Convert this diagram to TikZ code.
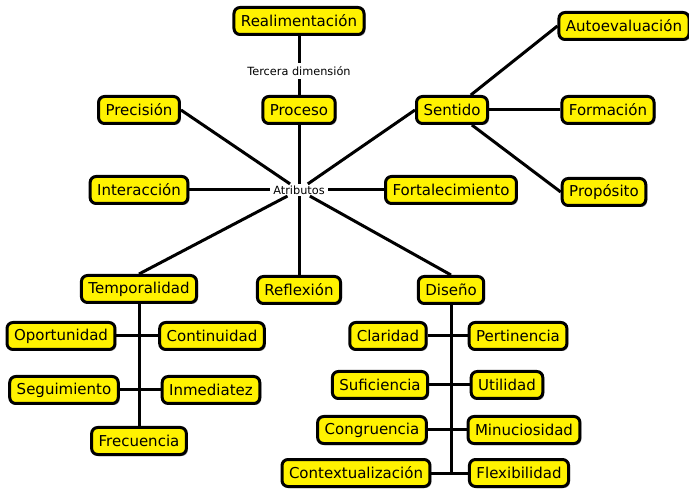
\documentclass[tikz,border=0pt]{standalone}
\usepackage{fontspec}
\setmainfont{DejaVu Sans}
\usetikzlibrary{shadows}

\begin{document}
\begin{tikzpicture}[x=1pt, y=-1pt,
    concepto/.style ={rectangle, rounded corners=6pt, draw, line width=3pt,
      fill=yellow, minimum height=27pt, inner xsep=7pt,
      font=\fontsize{15}{17}\selectfont,
      drop shadow={shadow xshift=1.5pt, shadow yshift=-1.5pt, fill=black!35, opacity=1}},
    enlace/.style ={fill=white, inner xsep=3pt, inner ysep=1.5pt,
      font=\fontsize{11.3}{13}\selectfont},
    conector/.style ={line width=3pt}]
   \useasboundingbox (0,0) rectangle (689,489);
   % centro
   \node[enlace] (atributos) at (299,190) {Atributos};
   \node[concepto] (realimentacion) at (299,21)  {Realimentación};
   \node[enlace, inner ysep=3pt] (tercera) at (299,71)  {Tercera dimensión};
   \node[concepto] (proceso) at (299,110)  {Proceso};
   \node[concepto] (precision) at (139,110)  {Precisión};
   \node[concepto] (sentido) at (452,110)  {Sentido};
   \node[concepto] (autoevaluacion) at (624,26)  {Autoevaluación};
   \node[concepto] (formacion) at (608,110)  {Formación};
   \node[concepto] (proposito) at (604,192)  {Propósito};
   \node[concepto] (interaccion) at (139,190)  {Interacción};
   \node[concepto] (fortalecimiento) at (451,190)  {Fortalecimiento};
   \node[concepto] (temporalidad) at (139,289)  {Temporalidad};
   \node[concepto] (reflexion) at (299,290)  {Reflexión};
   \node[concepto] (diseno) at (451,290)  {Diseño};
   % temporalidad
   \node[concepto] (oportunidad) at (61,336)  {Oportunidad};
   \node[concepto] (continuidad) at (212,336)  {Continuidad};
   \node[concepto] (seguimiento) at (64,390)  {Seguimiento};
   \node[concepto] (inmediatez) at (211,390)  {Inmediatez};
   \node[concepto] (frecuencia) at (139,441)  {Frecuencia};
   % diseno
   \node[concepto] (claridad) at (388,336)  {Claridad};
   \node[concepto] (pertinencia) at (518,336)  {Pertinencia};
   \node[concepto] (suficiencia) at (380,385)  {Suficiencia};
   \node[concepto] (utilidad) at (507,385)  {Utilidad};
   \node[concepto] (congruencia) at (372,430)  {Congruencia};
   \node[concepto] (minuciosidad) at (524,430)  {Minuciosidad};
   \node[concepto] (contextualizacion) at (356,473)  {Contextualización};
   \node[concepto] (flexibilidad) at (519,473)  {Flexibilidad};

   \draw[conector] (realimentacion) to (tercera);
   \draw[conector] (tercera) to (proceso);
   \draw[conector] (proceso) to (atributos);
   \draw[conector] (precision.east) to (atributos);
   \draw[conector] (sentido.west) to (atributos);
   \draw[conector] (interaccion) to (atributos);
   \draw[conector] (fortalecimiento) to (atributos);
   \draw[conector] (temporalidad.north) to (atributos);
   \draw[conector] (reflexion) to (atributos);
   \draw[conector] (diseno.north) to (atributos);
   \draw[conector] (sentido) to (autoevaluacion.west);
   \draw[conector] (sentido) to (formacion);
   \draw[conector] (sentido) to (proposito.west);
   \draw[conector] (temporalidad) to (frecuencia);
   \draw[conector] (oportunidad) to (continuidad);
   \draw[conector] (seguimiento) to (inmediatez);
   \draw[conector] (diseno.south) to (diseno.south |- contextualizacion.east);
   \draw[conector] (claridad) to (pertinencia);
   \draw[conector] (suficiencia) to (utilidad);
   \draw[conector] (congruencia) to (minuciosidad);
   \draw[conector] (contextualizacion) to (flexibilidad);
 \end{tikzpicture}
\end{document}
